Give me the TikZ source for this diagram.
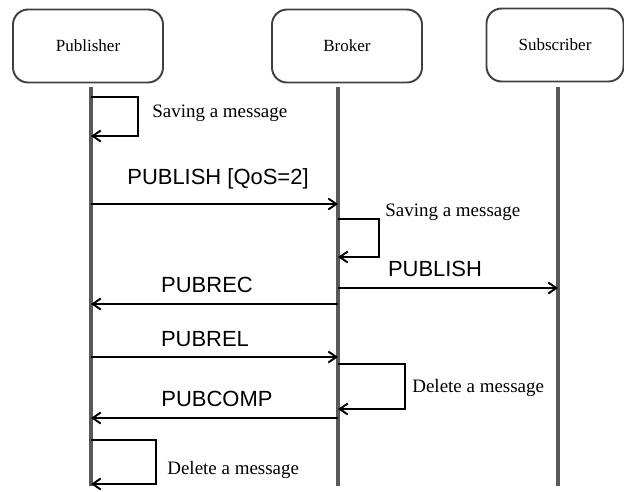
\documentclass[tikz,border=0pt]{standalone}
\usepackage{fontspec}
\setmainfont{Liberation Serif}
\newfontfamily\msgfont{Liberation Sans}
\usetikzlibrary{arrows.meta}

\begin{document}
\begin{tikzpicture}[
  x=0.02cm, y=-0.02cm,
  head/.style={draw=black!75, line width=1.1pt, rounded corners=0.3cm,
               minimum width=3cm, minimum height=1.46cm, inner sep=0pt,
               font=\fontsize{9.7}{11}\selectfont},
  life/.style={line width=2pt, black!65},
  msg/.style={-{Straight Barb[length=1.6mm, width=2.2mm]}, line width=1.1pt},
  lbl/.style={inner sep=0pt, font=\msgfont\fontsize{12.5}{14}\selectfont},
  note/.style={anchor=west, inner sep=0pt, font=\fontsize{10.8}{12}\selectfont},
]
  \useasboundingbox (0,0) rectangle (624,491);

  % --- lifeline x positions ---
  \def\P{91} \def\B{338} \def\S{558}
  \def\Top{87} \def\Bot{486}

  % --- heads ---
  \node[head] (hP) at (88,46) {Publisher};
  \node[head] (hB) at (347,46) {Broker};
  \node[head, minimum width=2.74cm] (hS) at (555,45) {Subscriber};

  % --- lifelines ---
  \foreach \x/\n in {\P/P,\B/B,\S/S}{
    \coordinate (t\n) at (\x,\Top);
    \coordinate (e\n) at (\x,\Bot);
    \draw[life] (t\n) -- (e\n);
  }

  % --- publisher saves the message ---
  \coordinate (svP) at (\P,97); \coordinate (svPe) at (\P,136);
  \draw[msg] (svP) -- ++(47,0) |- (svPe);
  \node[note] (nSvP) at (152,113) {Saving a message};

  % --- PUBLISH [QoS=2] ---
  \coordinate (pQ) at (\P,204); \coordinate (bQ) at (\B,204);
  \draw[msg] (pQ) -- (bQ);
  \node[lbl] (lQ) at (218,179) {PUBLISH [QoS=2]};

  % --- broker saves the message ---
  \coordinate (svB) at (\B,219); \coordinate (svBe) at (\B,257);
  \draw[msg] (svB) -- ++(41,0) |- (svBe);
  \node[note] (nSvB) at (385,212) {Saving a message};

  % --- PUBLISH to subscriber ---
  \coordinate (bF) at (\B,288); \coordinate (sF) at (\S,288);
  \draw[msg] (bF) -- (sF);
  \node[lbl] (lF) at (435,269) {PUBLISH};

  % --- PUBREC ---
  \coordinate (bR) at (\B,304); \coordinate (pR) at (\P,304);
  \draw[msg] (bR) -- (pR);
  \node[lbl] (lR) at (207,285) {PUBREC};

  % --- PUBREL ---
  \coordinate (pL) at (\P,357); \coordinate (bL) at (\B,357);
  \draw[msg] (pL) -- (bL);
  \node[lbl] (lL) at (205,339) {PUBREL};

  % --- broker deletes the message ---
  \coordinate (dlB) at (\B,364); \coordinate (dlBe) at (\B,409);
  \draw[msg] (dlB) -- ++(67,0) |- (dlBe);
  \node[note] (nDlB) at (412,388) {Delete a message};

  % --- PUBCOMP ---
  \coordinate (bC) at (\B,418); \coordinate (pC) at (\P,418);
  \draw[msg] (bC) -- (pC);
  \node[lbl] (lC) at (217,399) {PUBCOMP};

  % --- publisher deletes the message ---
  \coordinate (dlP) at (\P,440); \coordinate (dlPe) at (\P,484);
  \draw[msg] (dlP) -- ++(65,0) |- (dlPe);
  \node[note] (nDlP) at (167,470) {Delete a message};
\end{tikzpicture}
\end{document}
